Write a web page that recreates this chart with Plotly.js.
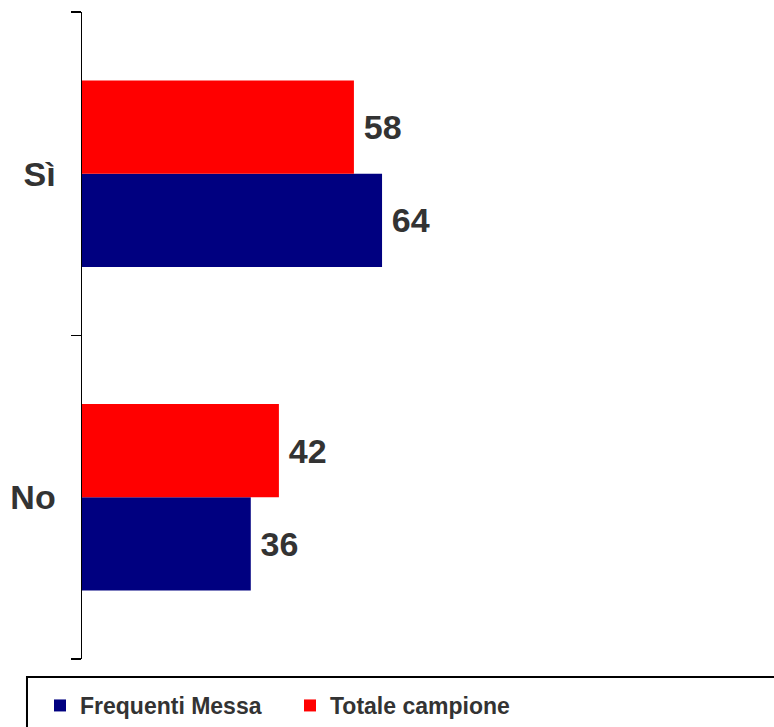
<!DOCTYPE html>
<html><head><meta charset="utf-8">
<script src="https://cdn.plot.ly/plotly-3.0.1.min.js"></script>
<style>html,body{margin:0;padding:0;background:#fff;}</style>
</head><body>
<div id="chart" style="width:774px;height:727px;"></div>
<script>
var categories = ['No', 'Sì'];
var frequentiMessa = [36, 64];
var totaleCampione = [42, 58];
var seriesNames = ['Frequenti Messa', 'Totale campione'];

var labelFont = {family: 'Liberation Sans, Arial, sans-serif', size: 34, color: '#333333', weight: 700};

var traces = [
  {type: 'bar', orientation: 'h', name: seriesNames[0], y: categories, x: frequentiMessa,
   marker: {color: '#000080'}, text: frequentiMessa, texttemplate: '\u2009%{x}', textposition: 'outside',
   textfont: labelFont, cliponaxis: false, hoverinfo: 'none'},
  {type: 'bar', orientation: 'h', name: seriesNames[1], y: categories, x: totaleCampione,
   marker: {color: '#FF0000'}, text: totaleCampione, texttemplate: '\u2009%{x}', textposition: 'outside',
   textfont: labelFont, cliponaxis: false, hoverinfo: 'none'}
];

var layout = {
  width: 774, height: 727,
  margin: {l: 82, r: 0, t: 12, b: 67, pad: 0},
  paper_bgcolor: '#ffffff', plot_bgcolor: '#ffffff',
  barmode: 'group', bargap: 0.423, bargroupgap: 0,
  showlegend: true,
  xaxis: {visible: false, range: [0, 147.6], fixedrange: true},
  yaxis: {
    type: 'category', categoryorder: 'array', categoryarray: categories,
    range: [-0.5, 1.5], showline: true, linecolor: '#000000', linewidth: 1.5,
    ticks: 'outside', tickson: 'boundaries', ticklen: 10, tickwidth: 1.5, tickcolor: '#000000',
    showgrid: false, zeroline: false, tickfont: labelFont, ticklabelstandoff: 18
  },
  legend: {
    orientation: 'h', x: -0.0607, xanchor: 'left', y: -0.0725, yanchor: 'middle',
    font: {family: 'Liberation Sans, Arial, sans-serif', size: 23, color: '#333333', weight: 700},
    entrywidth: 205, entrywidthmode: 'pixels', bgcolor: 'rgba(0,0,0,0)', borderwidth: 0,
    traceorder: 'normal'
  },
  shapes: [
    {type: 'rect', xref: 'paper', yref: 'paper', x0: -0.0795, x1: 1.05, y0: -0.0278, y1: -0.13,
     line: {color: '#000000', width: 2}, fillcolor: 'rgba(0,0,0,0)', layer: 'below'}
  ]
};

Plotly.newPlot('chart', traces, layout, {displayModeBar: false, staticPlot: true});
</script>
</body></html>
